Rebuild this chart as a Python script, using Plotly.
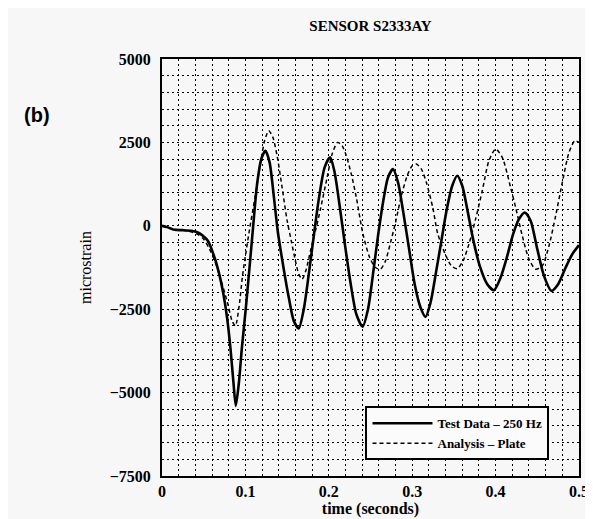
import plotly.graph_objects as go

# ---- data ----
t_test = [0, 0.006, 0.015, 0.025, 0.035, 0.043, 0.049, 0.055, 0.0615, 0.0675, 0.0735, 0.078, 0.082,
          0.0855, 0.0885, 0.092, 0.096, 0.1004, 0.1044, 0.109, 0.114, 0.119, 0.124, 0.129, 0.134,
          0.139, 0.146, 0.152, 0.158, 0.164, 0.170, 0.176, 0.182, 0.188, 0.195, 0.2016, 0.207,
          0.213, 0.219, 0.226, 0.233, 0.2405, 0.247, 0.253, 0.259, 0.265, 0.271, 0.277, 0.283,
          0.289, 0.296, 0.303, 0.310, 0.316, 0.322, 0.3285, 0.335, 0.3415, 0.348, 0.354, 0.360,
          0.366, 0.373, 0.381, 0.390, 0.398, 0.406, 0.414, 0.421, 0.428, 0.435, 0.442, 0.450,
          0.458, 0.467, 0.475, 0.484, 0.492, 0.5]
v_test = [0, -40, -120, -130, -150, -200, -300, -450, -840, -1335, -2030, -2750, -3650,
          -4650, -5400, -4750, -3600, -2500, -1400, -100, 1250, 2000, 2250, 1900, 900,
          -200, -1300, -2150, -2850, -3075, -2500, -1450, -300, 800, 1750, 2050, 1600,
          600, -500, -1700, -2650, -3025, -2500, -1450, -300, 700, 1450, 1700, 1300,
          450, -650, -1750, -2450, -2730, -2300, -1400, -450, 500, 1200, 1500, 1200,
          500, -400, -1200, -1750, -1930, -1550, -900, -250, 200, 400, 150, -700,
          -1500, -1950, -1750, -1250, -850, -580]

t_plate = [0, 0.006, 0.015, 0.025, 0.035, 0.043, 0.05, 0.057, 0.064, 0.071, 0.0785, 0.084, 0.088,
           0.0925, 0.0964, 0.1004, 0.105, 0.1115, 0.118, 0.123, 0.128, 0.133, 0.138, 0.144, 0.150,
           0.155, 0.160, 0.164, 0.168, 0.173, 0.178, 0.184, 0.190, 0.198, 0.204, 0.2105, 0.216,
           0.221, 0.227, 0.233, 0.241, 0.249, 0.256, 0.262, 0.268, 0.274, 0.280, 0.287, 0.294,
           0.300, 0.305, 0.311, 0.317, 0.3246, 0.3306, 0.3405, 0.347, 0.354, 0.361, 0.368, 0.376,
           0.384, 0.392, 0.400, 0.408, 0.418, 0.424, 0.432, 0.440, 0.448, 0.456, 0.464, 0.472,
           0.480, 0.488, 0.495, 0.5]
v_plate = [0, -40, -100, -130, -180, -260, -400, -700, -1100, -1650, -2300, -2850, -3000,
           -2400, -1530, -840, -100, 850, 1850, 2550, 2850, 2650, 2100, 1150, 160,
           -450, -1050, -1450, -1600, -1300, -750, -150, 500, 1450, 2150, 2500, 2400,
           2100, 1550, 850, -250, -950, -1250, -1300, -1050, -500, 100, 900, 1500,
           1800, 1850, 1700, 1300, 555, -240, -900, -1200, -1285, -1050, -550, 200,
           1050, 1950, 2300, 2050, 1150, 555, -300, -1000, -1300, -1200, -600, 300,
           1300, 2200, 2550, 2500]

x_ticks = [0, 0.1, 0.2, 0.3, 0.4, 0.5]
x_tick_labels = ["0", "0.1", "0.2", "0.3", "0.4", "0.5"]
y_ticks = [-7500, -5000, -2500, 0, 2500, 5000]
y_tick_labels = ["\u22127500", "\u22125000", "\u22122500", "0", "2500", "5000"]

SERIF = "Liberation Serif, Times New Roman, serif"
BG = "#f7f7f7"

fig = go.Figure()
fig.add_trace(go.Scatter(x=t_test, y=v_test, mode="lines", name="<b>Test Data \u2013 250 Hz</b>",
                         line=dict(color="black", width=2.6, shape="spline", smoothing=0.7)))
fig.add_trace(go.Scatter(x=t_plate, y=v_plate, mode="lines", name="<b>Analysis \u2013 Plate</b>",
                         line=dict(color="black", width=1.5, dash="4px,3px", shape="spline", smoothing=0.7)))

grid = dict(gridcolor="black", gridwidth=1, griddash="2px,3px")

fig.update_layout(
    width=593, height=519,
    margin=dict(l=154, r=19, t=51, b=49),
    paper_bgcolor=BG, plot_bgcolor=BG,
    font=dict(family=SERIF, size=16, color="black"),
    showlegend=True,
    legend=dict(x=0.488, y=0.167, xanchor="left", yanchor="top",
                bgcolor="#fbfbfb", bordercolor="black", borderwidth=2,
                font=dict(family=SERIF, size=13, color="black"),
                itemwidth=60, entrywidth=150, entrywidthmode="pixels", tracegroupgap=0),
    title=dict(text="<b>SENSOR S2333AY</b>", x=0.5, xref="paper", y=0.965, yref="container",
               xanchor="center", yanchor="middle",
               font=dict(family=SERIF, size=15, color="black")),
    xaxis=dict(range=[0, 0.5], tickvals=x_ticks, ticktext=["<b>%s</b>" % s for s in x_tick_labels],
               showline=True, mirror=True, linecolor="black", linewidth=2,
               ticks="", zeroline=False, showgrid=True, **grid,
               minor=dict(dtick=0.02, tick0=0, showgrid=True, **grid),
               tickfont=dict(family=SERIF, size=16),
               title=dict(text="<b>time (seconds)</b>", standoff=4, font=dict(family=SERIF, size=16))),
    yaxis=dict(range=[-7500, 5000], tickvals=y_ticks, ticktext=["<b>%s</b>" % s for s in y_tick_labels],
               showline=True, mirror=True, linecolor="black", linewidth=2,
               ticks="", zeroline=False, showgrid=True, **grid,
               minor=dict(dtick=500, tick0=0, showgrid=True, **grid),
               tickfont=dict(family=SERIF, size=16), ticklabelstandoff=6,
               title=dict(text="microstrain", standoff=14, font=dict(family=SERIF, size=16))),
)

fig.add_annotation(text="<b>(b)</b>", x=-0.30, y=0.866, xref="paper", yref="paper",
                   xanchor="center", yanchor="middle",
                   showarrow=False, font=dict(family="Liberation Sans, Arial, sans-serif", size=20, color="black"))

fig.write_html("out.html")
